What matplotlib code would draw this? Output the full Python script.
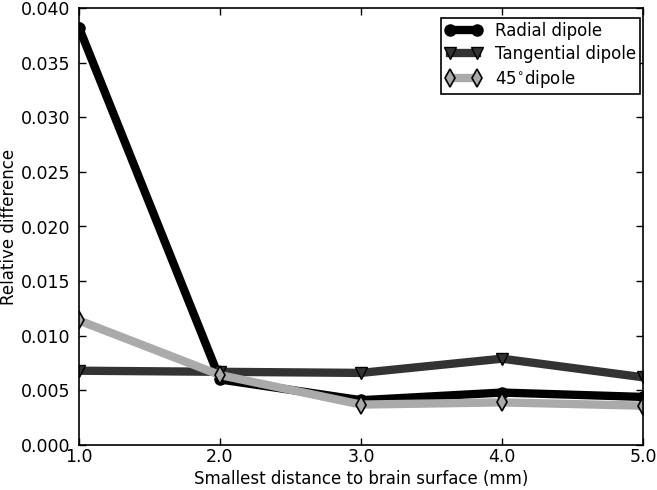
import matplotlib
matplotlib.use("Agg")
import matplotlib.pyplot as plt

distance = [1.0, 2.0, 3.0, 4.0, 5.0]
radial = [0.0382, 0.0060, 0.0041, 0.0048, 0.0044]
tangential = [0.0068, 0.0067, 0.0066, 0.0079, 0.0062]
deg45 = [0.0114, 0.0064, 0.0037, 0.0039, 0.0036]
xticks = [1.0, 2.0, 3.0, 4.0, 5.0]
xticklabels = ["1.0", "2.0", "3.0", "4.0", "5.0"]

plt.rcParams['font.family'] = ['DejaVu Sans']
fig = plt.figure(figsize=(6.57, 4.90), dpi=100)
ax = fig.add_axes([79/657, 45/490, (643-79)/657, (445-8)/490])

ax.plot(distance, radial, color='black', lw=6, marker='o', ms=8,
        mfc='black', mec='black', label='Radial dipole')
ax.plot(distance, tangential, color='#333333', lw=6, marker='v', ms=9,
        mfc='#333333', mec='black', label='Tangential dipole')
ax.plot(distance, deg45, color='#aaaaaa', lw=6, marker='d', ms=9,
        mfc='#aaaaaa', mec='black', mew=1.2, label=r'45$^{\circ}$dipole')

ax.set_xlim(1.0, 5.0)
ax.set_ylim(0.0, 0.040)
ax.set_xticks(xticks)
ax.set_xticklabels(xticklabels)
ax.set_yticks([0.0, 0.005, 0.010, 0.015, 0.020, 0.025, 0.030, 0.035, 0.040])
ax.set_yticklabels(["0.000", "0.005", "0.010", "0.015", "0.020", "0.025",
                    "0.030", "0.035", "0.040"])
ax.tick_params(direction='in', top=True, right=True, length=5, width=1,
               labelsize=12.5)
ax.tick_params(axis='x', pad=2)
ax.tick_params(axis='y', pad=6)
for s in ax.spines.values():
    s.set_linewidth(1.2)
ax.set_xlabel('Smallest distance to brain surface (mm)', fontsize=12, labelpad=3)
ax.set_ylabel('Relative difference', fontsize=12, labelpad=2)
leg = ax.legend(loc='upper right', bbox_to_anchor=(0.995, 0.977),
                borderaxespad=0, fontsize=12, fancybox=False,
                edgecolor='black', framealpha=1, numpoints=2,
                handlelength=2.2, borderpad=0.25, labelspacing=0.3,
                handletextpad=0.8)
leg.get_frame().set_linewidth(1.2)

fig.savefig('out.png', dpi=100)
